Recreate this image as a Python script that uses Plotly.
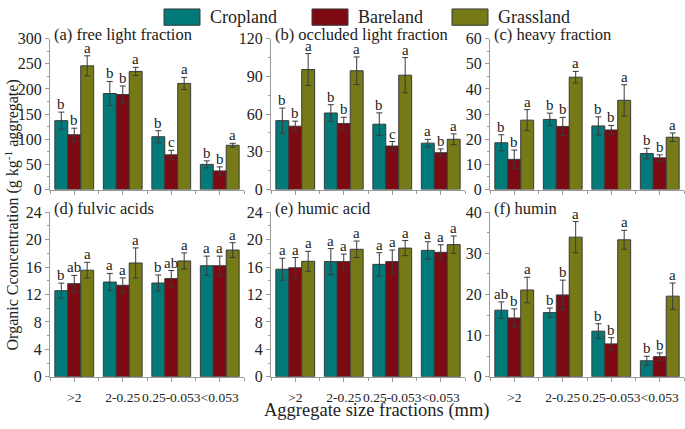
import plotly.graph_objects as go

size_fractions = [">2", "2-0.25", "0.25-0.053", "<0.053"]
land_uses = ["Cropland", "Bareland", "Grassland"]
colors = ["#027a7a", "#7d0a12", "#757a17"]

panel_titles = ["(a) free light fraction", "(b) occluded light fraction", "(c) heavy fraction",
                "(d) fulvic acids", "(e) humic acid", "(f) humin"]

# values [panel][land use][size fraction]
free_light = [[137, 191, 105, 50], [109, 189, 69, 37], [246, 235, 211, 88]]
free_light_err = [[17, 24, 12, 7], [13, 17, 9, 8], [20, 8, 12, 4]]
free_light_letters = [["b", "b", "b", "b"], ["b", "b", "c", "b"], ["a", "a", "a", "a"]]

occluded_light = [[54.8, 60.9, 52.0, 36.9], [50.4, 52.5, 34.6, 29.3], [95.5, 94.5, 91.0, 40.0]]
occluded_light_err = [[10, 6.6, 9, 3], [4, 5, 3.6, 3], [12.7, 11, 14, 4.3]]
occluded_light_letters = [["b", "b", "b", "a"], ["b", "b", "c", "b"], ["a", "a", "a", "a"]]

heavy = [[18.6, 27.9, 25.3, 14.3], [12.0, 25.1, 23.7, 12.6], [27.6, 44.7, 35.5, 20.8]]
heavy_err = [[3.2, 2.5, 3.6, 2.1], [3.7, 3.6, 1.8, 1.2], [4.2, 2.3, 6.2, 1.7]]
heavy_letters = [["b", "b", "b", "b"], ["b", "b", "b", "b"], ["a", "a", "a", "a"]]

fulvic = [[12.56, 13.82, 13.68, 16.2], [13.59, 13.35, 14.33, 16.2], [15.55, 16.6, 16.9, 18.49]]
fulvic_err = [[1.1, 1.26, 1.17, 1.4], [1.2, 1.08, 1.17, 1.4], [1.15, 2.2, 1.17, 1.07]]
fulvic_letters = [["b", "a", "b", "a"], ["ab", "a", "ab", "a"], ["a", "a", "a", "a"]]

humic = [[15.69, 16.8, 16.4, 18.44], [15.9, 16.8, 16.8, 18.16], [16.85, 18.6, 18.77, 19.28]]
humic_err = [[1.6, 1.9, 1.7, 1.26], [1.5, 1.1, 1.7, 1.1], [1.45, 1.2, 1.1, 1.26]]
humic_letters = [["a", "a", "a", "a"], ["a", "a", "a", "a"], ["a", "a", "a", "a"]]

humin = [[16.2, 15.6, 11.1, 3.9], [14.3, 19.9, 8.0, 4.9], [21.1, 33.95, 33.3, 19.6]]
humin_err = [[2.0, 1.1, 1.8, 1.1], [2.2, 3.6, 1.5, 0.9], [3.1, 3.8, 2.3, 3.2]]
humin_letters = [["ab", "b", "b", "b"], ["b", "b", "b", "b"], ["a", "a", "a", "a"]]

y_max = [300, 120, 60, 24, 24, 40]
y_dtick = [50, 30, 10, 4, 4, 10]

panels = [
    (free_light, free_light_err, free_light_letters),
    (occluded_light, occluded_light_err, occluded_light_letters),
    (heavy, heavy_err, heavy_letters),
    (fulvic, fulvic_err, fulvic_letters),
    (humic, humic_err, humic_letters),
    (humin, humin_err, humin_letters),
]

W, H = 685, 429
FONT = "Times New Roman, Liberation Serif, DejaVu Serif, serif"
TXT = "#222222"
AXC = "#9a9a9a"

x_domains = [[50 / W, 244 / W], [271 / W, 465 / W], [490 / W, 684 / W]]
y_domains = [[(H - 189) / H, (H - 32) / H], [(H - 384) / H, (H - 212.7) / H]]

BARGAP = 0.2
bw = (1 - BARGAP) / 3

fig = go.Figure()
annotations = []
layout = {}
xpos = list(range(len(size_fractions)))

for p, (vals, errs, letters) in enumerate(panels):
    row, col = divmod(p, 3)
    xa = "x" if p == 0 else f"x{p + 1}"
    ya = "y" if p == 0 else f"y{p + 1}"
    for j, lu in enumerate(land_uses):
        fig.add_trace(go.Bar(
            x=xpos, y=vals[j], name=lu, xaxis=xa, yaxis=ya,
            marker=dict(color=colors[j], line=dict(color="#3a3a3a", width=1)),
            error_y=dict(type="data", array=errs[j], color="#3a3a3a", thickness=1, width=3),
            showlegend=False, offsetgroup=str(j),
        ))
        for k in xpos:
            annotations.append(dict(
                x=k + (j - 1) * bw, y=vals[j][k] + errs[j][k], xref=xa, yref=ya,
                text=letters[j][k], showarrow=False, yanchor="bottom", xanchor="center",
                yshift=-2, font=dict(family=FONT, size=15, color=TXT),
            ))
    xkey = "xaxis" if p == 0 else f"xaxis{p + 1}"
    ykey = "yaxis" if p == 0 else f"yaxis{p + 1}"
    layout[xkey] = dict(
        domain=x_domains[col], anchor=ya, range=[-0.5, 3.5],
        tickvals=xpos, ticktext=size_fractions, showticklabels=(row == 1), tickangle=0,
        ticks="outside", ticklen=4, tickcolor=AXC, showline=True, linecolor=AXC,
        linewidth=1, showgrid=False, zeroline=False, ticklabelstandoff=4,
        minor=dict(tick0=0.5, dtick=1, ticks="outside", ticklen=3, tickcolor=AXC),
        tickfont=dict(family=FONT, size=13.5, color=TXT),
    )
    layout[ykey] = dict(
        domain=y_domains[row], anchor=xa, range=[0, y_max[p]], dtick=y_dtick[p], tick0=0,
        ticks="outside", ticklen=4, tickcolor=AXC, showline=True, linecolor=AXC,
        linewidth=1, showgrid=False, zeroline=False,
        minor=dict(dtick=y_dtick[p] / 2, ticks="outside", ticklen=2, tickcolor=AXC),
        tickfont=dict(family=FONT, size=16, color=TXT),
    )
    annotations.append(dict(
        x=x_domains[col][0] + 2 / W, y=y_domains[row][1] + 4 / H, xref="paper", yref="paper",
        text=panel_titles[p], showarrow=False, xanchor="left", yanchor="middle",
        font=dict(family=FONT, size=16.5, color=TXT),
    ))

# legend drawn at the top
shapes = []
legend_x = [164, 312, 452]
for j, lu in enumerate(land_uses):
    x0 = legend_x[j]
    shapes.append(dict(type="rect", xref="paper", yref="paper",
                       x0=x0 / W, x1=(x0 + 36) / W, y0=(H - 18) / H, y1=(H - 1) / H,
                       fillcolor=colors[j], line=dict(color="#3a3a3a", width=1)))
    annotations.append(dict(
        x=(x0 + 44) / W, y=(H - 9) / H, xref="paper", yref="paper", text=lu,
        showarrow=False, xanchor="left", yanchor="middle",
        font=dict(family=FONT, size=18, color=TXT),
    ))

annotations.append(dict(
    x=12 / W, y=(H - 216) / H, xref="paper", yref="paper",
    text="Organic Cconcentration (g kg<sup>-1</sup> aggregate)", textangle=-90,
    showarrow=False, xanchor="center", yanchor="middle",
    font=dict(family=FONT, size=16, color=TXT),
))
annotations.append(dict(
    x=377 / W, y=(H - 419) / H, xref="paper", yref="paper",
    text="Aggregate size fractions (mm)", showarrow=False, xanchor="center", yanchor="middle",
    font=dict(family=FONT, size=18.5, color=TXT),
))

fig.update_layout(
    width=W, height=H, margin=dict(l=0, r=0, t=0, b=0),
    font=dict(family=FONT, color=TXT),
    paper_bgcolor="white", plot_bgcolor="white",
    barmode="group", bargap=BARGAP, bargroupgap=0,
    annotations=annotations, shapes=shapes, showlegend=False,
    **layout,
)
fig.write_html(
    "out.html",
    config={"displayModeBar": False},
    post_script=("document.documentElement.style.margin='0';document.body.style.margin='0';"
                 "document.documentElement.style.overflow='hidden';document.body.style.overflow='hidden';"),
)
